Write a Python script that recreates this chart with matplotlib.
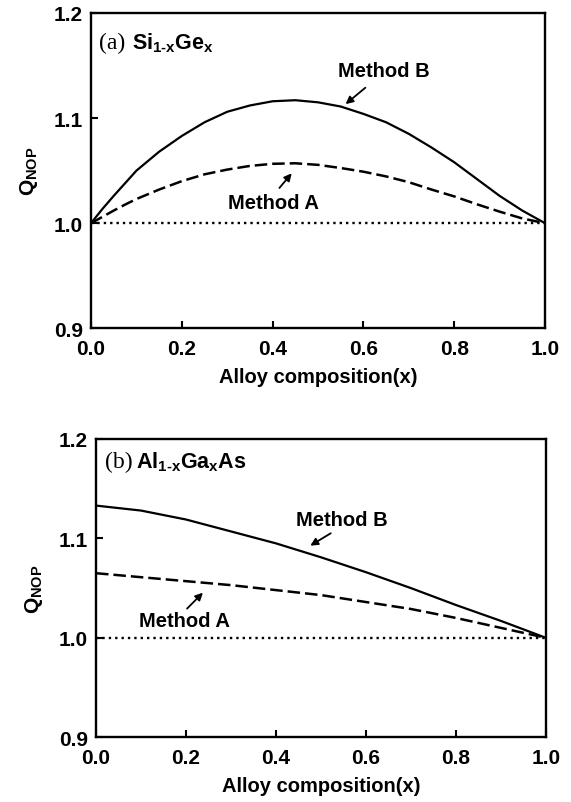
import numpy as np
import matplotlib
matplotlib.use("Agg")
import matplotlib.pyplot as plt

# fonts
plt.rcParams['font.family'] = ['Liberation Sans', 'DejaVu Sans']
plt.rcParams['font.weight'] = 'bold'
plt.rcParams['mathtext.fontset'] = 'custom'
plt.rcParams['mathtext.rm'] = 'Liberation Sans:bold'
plt.rcParams['mathtext.it'] = 'Liberation Sans:bold'
plt.rcParams['mathtext.bf'] = 'Liberation Sans:bold'

# (a) Si1-xGex data
xa = [0.0, 0.025, 0.05, 0.075, 0.1, 0.15, 0.2, 0.25, 0.3, 0.35, 0.4, 0.45, 0.5,
      0.55, 0.6, 0.65, 0.7, 0.75, 0.8, 0.85, 0.9, 0.95, 1.0]
a_methodB = [1.000, 1.0135, 1.026, 1.038, 1.050, 1.068, 1.083, 1.096, 1.106, 1.112, 1.116, 1.117, 1.115,
             1.111, 1.104, 1.096, 1.085, 1.072, 1.058, 1.042, 1.026, 1.012, 1.000]
a_methodA = [1.000, 1.006, 1.012, 1.0177, 1.023, 1.032, 1.040, 1.0465, 1.051, 1.0545, 1.0565, 1.057, 1.0555,
             1.0525, 1.049, 1.0445, 1.039, 1.032, 1.0255, 1.018, 1.011, 1.0045, 1.000]

# (b) Al1-xGaxAs data
xb = [0.0, 0.1, 0.2, 0.3, 0.4, 0.5, 0.6, 0.7, 0.8, 0.9, 1.0]
b_methodB = [1.133, 1.128, 1.119, 1.107, 1.095, 1.081, 1.066, 1.050, 1.033, 1.017, 1.000]
b_methodA = [1.065, 1.061, 1.057, 1.053, 1.048, 1.043, 1.036, 1.029, 1.020, 1.010, 1.000]

xticks = [0.0, 0.2, 0.4, 0.6, 0.8, 1.0]
yticks = [0.9, 1.0, 1.1, 1.2]

fig = plt.figure(figsize=(5.71, 8.03), dpi=100)
ax1 = fig.add_axes([0.1594, 0.5899, 0.7951, 0.3927])
ax2 = fig.add_axes([0.1681, 0.0806, 0.7881, 0.3715])


def style_axes(ax):
    ax.set_xlim(0, 1.0)
    ax.set_ylim(0.9, 1.2)
    ax.set_xticks(xticks)
    ax.set_yticks(yticks)
    ax.set_xticklabels(['%.1f' % v for v in xticks])
    ax.set_yticklabels(['%.1f' % v for v in yticks])
    ax.tick_params(direction='in', length=5, width=1.5, labelsize=15)
    ax.tick_params(axis='x', pad=8)
    ax.tick_params(axis='y', pad=6)
    for s in ax.spines.values():
        s.set_linewidth(1.7)
    ax.set_xlabel('Alloy composition(x)', fontsize=14.5, fontweight='bold', labelpad=6)
    ax.set_ylabel('Q$_{NOP}$', fontsize=15, fontweight='bold', labelpad=10)


def draw(ax, x, qa, qb):
    ax.plot(x, qb, color='black', lw=1.6, ls='-')
    ax.plot(x, qa, color='black', lw=1.8, ls=(0, (5, 2)))
    ax.plot([0, 1], [1.0, 1.0], color='black', lw=1.7, ls=(0, (1, 1.7)))


arrow = dict(arrowstyle='-|>', color='black', lw=1.3, mutation_scale=11)

# panel (a)
draw(ax1, xa, a_methodA, a_methodB)
style_axes(ax1)
ax1.text(0.018, 0.908, '(a)', transform=ax1.transAxes, family='Liberation Serif',
         fontweight='normal', fontsize=17, va='center')
ax1.text(0.09, 0.908, r'Si$_{1\text{-}x}$Ge$_x$', transform=ax1.transAxes,
         fontsize=15.5, va='center')
ax1.text(0.645, 1.1457, 'Method B', fontsize=14.5, ha='center', va='center')
ax1.annotate('', xy=(0.556, 1.1116), xytext=(0.609, 1.1306), arrowprops=arrow)
ax1.text(0.402, 1.020, 'Method A', fontsize=14.5, ha='center', va='center')
ax1.annotate('', xy=(0.446, 1.0495), xytext=(0.411, 1.0315), arrowprops=arrow)

# panel (b)
draw(ax2, xb, b_methodA, b_methodB)
style_axes(ax2)
ax2.text(0.02, 0.926, '(b)', transform=ax2.transAxes, family='Liberation Serif',
         fontweight='normal', fontsize=17, va='center')
ax2.text(0.088, 0.926, r'Al$_{1\text{-}x}$Ga$_x$As', transform=ax2.transAxes,
         fontsize=15.5, va='center')
ax2.text(0.547, 1.119, 'Method B', fontsize=14.5, ha='center', va='center')
ax2.annotate('', xy=(0.471, 1.0913), xytext=(0.527, 1.1066), arrowprops=arrow)
ax2.text(0.196, 1.0174, 'Method A', fontsize=14.5, ha='center', va='center')
ax2.annotate('', xy=(0.242, 1.0474), xytext=(0.198, 1.0274), arrowprops=arrow)

fig.savefig('out.png', dpi=100)
